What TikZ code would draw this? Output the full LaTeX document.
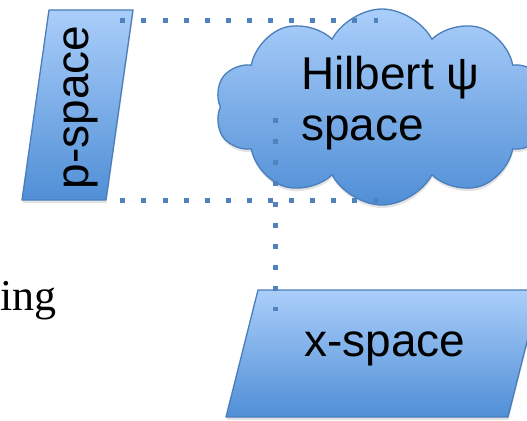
\documentclass[tikz,border=0pt]{standalone}
\usepackage{fontspec}
\setmainfont{Liberation Serif}
\newfontfamily\arialfont{Liberation Sans}
\usetikzlibrary{shapes.symbols}
\usetikzlibrary{shadows}

\definecolor{boxtop}{RGB}{170,206,250}
\definecolor{boxbottom}{RGB}{80,143,214}
\definecolor{boxedge}{RGB}{74,126,187}
\definecolor{linkblue}{RGB}{79,129,189}

\tikzset{
    spacebox/.style={draw=boxedge, line width=1.3pt, line join=round,
        top color=boxtop, bottom color=boxbottom,
        drop shadow={shadow xshift=0.5pt, shadow yshift=-3pt, opacity=0.22}},
    spacelabel/.style={font=\arialfont\fontsize{46}{51}\selectfont, inner sep=0pt},
    link/.style={draw=linkblue, line width=5pt, dash pattern=on 5pt off 16.1pt}
}

\begin{document}
\begin{tikzpicture}[x=1pt, y=-1pt]
        \useasboundingbox (0,0) rectangle (527,420);
        \clip (0,0) rectangle (527,420);

        \path[spacebox] (22,200) -- (49,10) -- (133,10) -- (106,200) -- cycle;
        \node[spacelabel, rotate=90] (psp) at (81,107.5) {p-space};

        \path[spacebox] (226,417) -- (258,290) -- (540,290) -- (508,417) -- cycle;
        \node[spacelabel] (xsp) at (385,349) {x-space};

        \node[spacebox, cloud, cloud puffs=10, cloud puff arc=125, cloud ignores aspect,
            minimum width=334pt, minimum height=196pt] (hilbert) at (382,107) {};
        \node[spacelabel, align=left, anchor=west] (hilbertlabel) at (301,103.5) {Hilbert ψ\\space};

        \node[font=\fontsize{44}{48}\selectfont, inner sep=0pt, anchor=base east] (ing) at (57,310) {ing};

        \coordinate (pNE) at (120.3,21);
        \coordinate (pSE) at (120.3,200);
        \coordinate (cloudN) at (378.4,21);
        \coordinate (cloudS) at (378.4,200);
        \coordinate (vtop) at (275.6,117.5);
        \coordinate (vbottom) at (275.6,310.5);
        \draw[link] (pNE) -- (cloudN);
        \draw[link] (pSE) -- (cloudS);
        \draw[link] (vtop) -- (vbottom);
\end{tikzpicture}
\end{document}
